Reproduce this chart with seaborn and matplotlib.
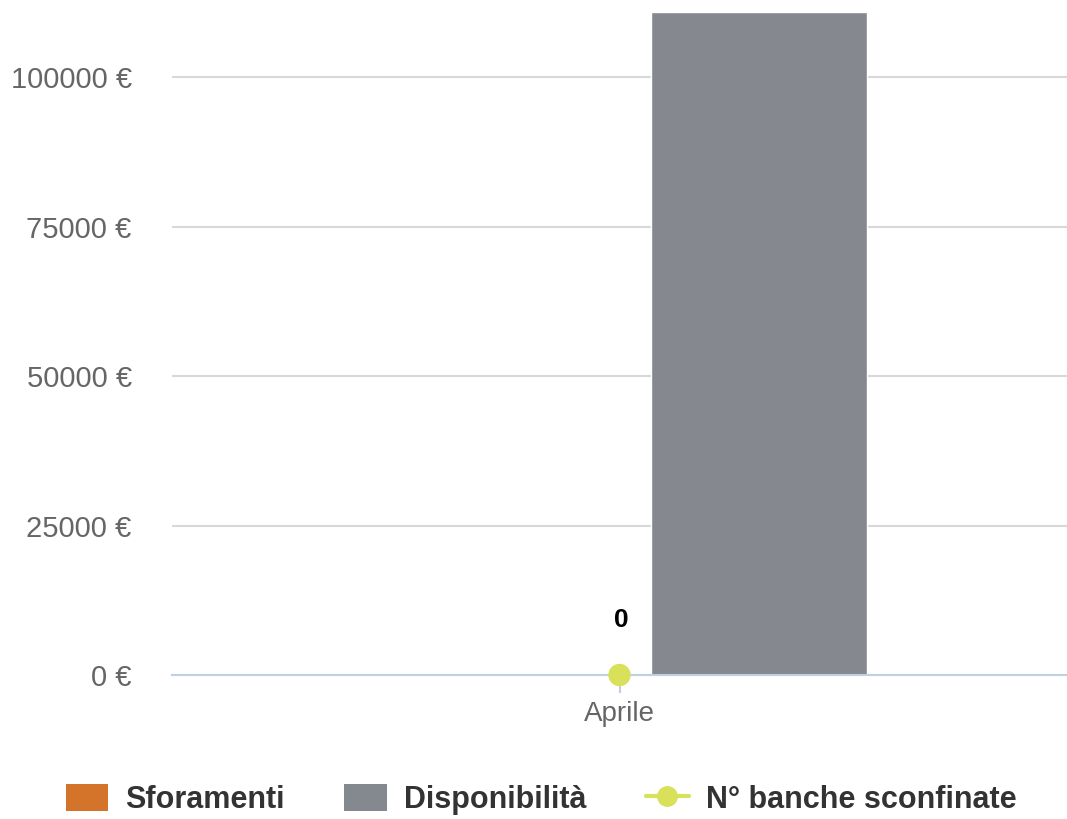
import pandas as pd
import seaborn as sns
from matplotlib import pyplot as plt
from matplotlib.lines import Line2D
from matplotlib.patches import Patch

months = ["Aprile"]
sforamenti = [0]
disponibilita = [110870]
banche_sconfinate = [0]

c_sfor = "#d4732a"
c_disp = "#84888f"
c_banche = "#d9e05a"

sns.set_theme(style="white")
plt.rcParams["font.family"] = ["Liberation Sans", "DejaVu Sans"]

bars = pd.DataFrame({
    "mese": months * 2,
    "serie": ["Sforamenti"] * len(months) + ["Disponibilità"] * len(months),
    "valore": sforamenti + disponibilita,
})

fig = plt.figure(figsize=(10.67, 8.19), dpi=100)
ax = fig.add_axes([0.1612, 0.1758, 0.8388, 0.8095])

sns.barplot(data=bars, x="mese", y="valore", hue="serie",
            palette=[c_sfor, c_disp], width=0.624, gap=0.227,
            edgecolor="white", linewidth=1, legend=False, ax=ax, zorder=3)

pts = pd.DataFrame({"mese": months, "n": banche_sconfinate})
sns.scatterplot(data=pts, x="mese", y="n", color=c_banche, s=260,
                edgecolor="none", ax=ax, zorder=5, clip_on=False)
for m, v in zip(months, banche_sconfinate):
    ax.annotate(str(v), (0, v), xytext=(1.5, 31), textcoords="offset points",
                ha="center", va="bottom", fontsize=19, fontweight="bold", color="black")

ax.set_xlim(-0.5, 0.5)
ax.set_ylim(0, 110870)
ax.set_yticks([0, 25000, 50000, 75000, 100000])
ax.set_yticklabels([f"{t} €" for t in [0, 25000, 50000, 75000, 100000]])
ax.yaxis.grid(True, color="#d8d8d8", linewidth=1.5, zorder=0)
ax.set_axisbelow(True)
ax.set_xlabel("")
ax.set_ylabel("")
for s in ["top", "right", "left"]:
    ax.spines[s].set_visible(False)
ax.spines["bottom"].set_color("#c0d0e0")
ax.spines["bottom"].set_linewidth(1.5)
ax.spines["bottom"].set_zorder(4)
ax.tick_params(axis="y", length=0, labelsize=21, labelcolor="#666666", pad=29)
ax.tick_params(axis="x", length=13, width=1.5, color="#c0d0e0", labelsize=20,
               labelcolor="#666666", pad=6, bottom=True)

handles = [
    Patch(facecolor=c_sfor, edgecolor="none", label="Sforamenti"),
    Patch(facecolor=c_disp, edgecolor="none", label="Disponibilità"),
    Line2D([0], [0], color=c_banche, lw=3, marker="o", markersize=14,
           label="N° banche sconfinate"),
]
fig.legend(handles=handles, loc="center", bbox_to_anchor=(0.507, 0.024), ncol=3,
           frameon=False, handlelength=1.4, handleheight=1.0, handletextpad=0.55,
           columnspacing=1.95, prop={"size": 22, "weight": "bold"}, labelcolor="#333333")

fig.savefig("out.png", dpi=100)
